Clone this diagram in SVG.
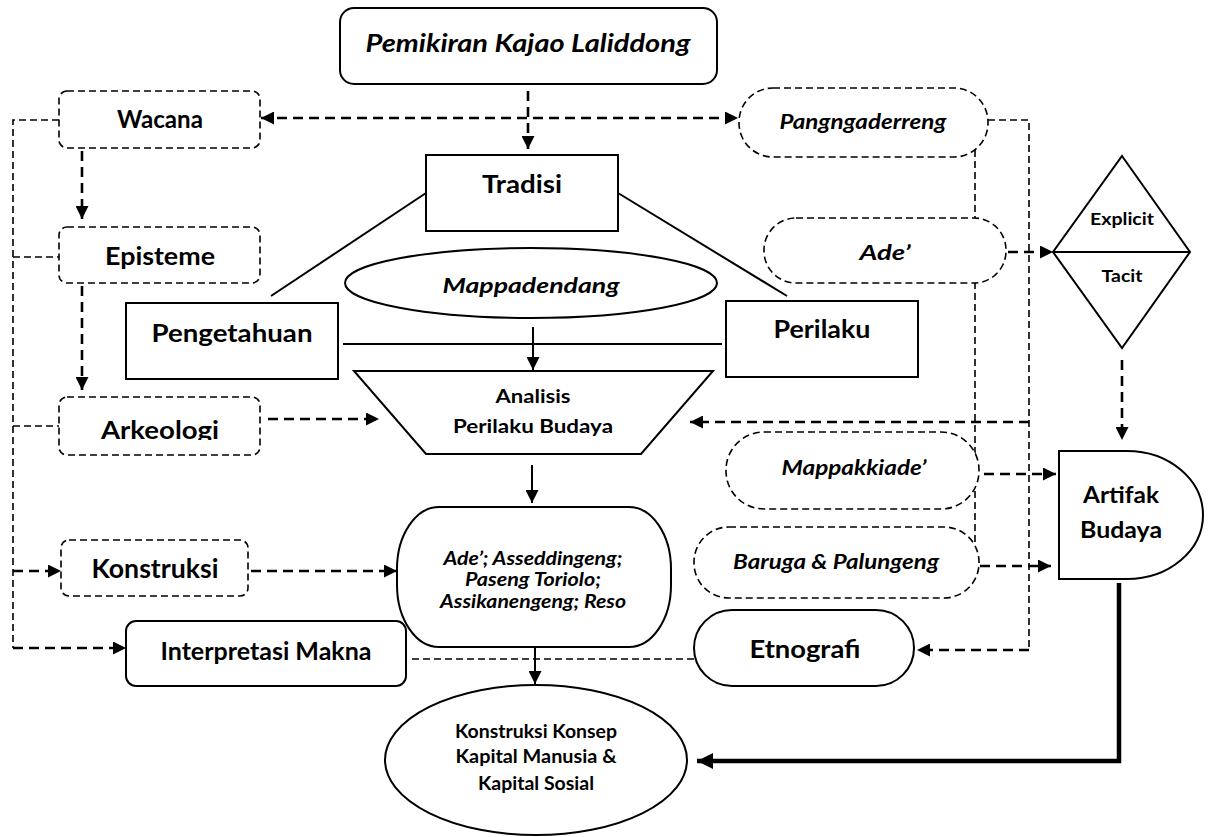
<svg xmlns="http://www.w3.org/2000/svg" width="1212" height="837" viewBox="0 0 1212 837">
<style>
.t{font-family:Lato,"Open Sans","Liberation Sans",sans-serif;font-weight:bold;fill:#000;text-anchor:middle}
.i{font-style:italic}
.box{fill:#fff;stroke:#000;stroke-width:2}
.dbox{fill:#fff;stroke:#000;stroke-width:1.6;stroke-dasharray:7 4}
.thin{fill:none;stroke:#000;stroke-width:1.6;stroke-dasharray:7 4}
.thick{fill:none;stroke:#000;stroke-width:2.6;stroke-dasharray:10 6}
.solid{fill:none;stroke:#000;stroke-width:2}
</style>
<defs>
<marker id="ah" viewBox="0 0 10 10" refX="10" refY="5" markerWidth="13" markerHeight="13" markerUnits="userSpaceOnUse" orient="auto-start-reverse"><path d="M0,0 L10,5 L0,10 z" fill="#000"/></marker>
<marker id="ahb" viewBox="0 0 10 10" refX="10" refY="5" markerWidth="16" markerHeight="16" markerUnits="userSpaceOnUse" orient="auto"><path d="M0,0 L10,5 L0,10 z" fill="#000"/></marker>
<clipPath id="arkclip"><rect x="59" y="397" width="201" height="43"/></clipPath>
</defs>
<rect width="1212" height="837" fill="#fff"/>
<g id="connectors">
<line class="thick" x1="528" y1="91" x2="528" y2="149" marker-end="url(#ah)"/>
<line class="thick" x1="261" y1="118" x2="738" y2="118" marker-start="url(#ah)" marker-end="url(#ah)"/>
<line class="thick" x1="82" y1="151" x2="82" y2="219" marker-end="url(#ah)"/>
<line class="thick" x1="82" y1="286" x2="82" y2="390" marker-end="url(#ah)"/>
<path class="thin" d="M59,120 H13 V648"/>
<line class="thin" x1="13" y1="257" x2="59" y2="257"/>
<line class="thin" x1="13" y1="426" x2="59" y2="426"/>
<line class="thick" x1="13" y1="571" x2="61" y2="571" marker-end="url(#ah)"/>
<line class="thick" x1="13" y1="648" x2="126" y2="648" marker-end="url(#ah)"/>
<line class="thick" x1="268" y1="419" x2="379" y2="419" marker-end="url(#ah)"/>
<line class="solid" x1="271" y1="296" x2="426" y2="193"/>
<line class="solid" x1="618" y1="193" x2="787" y2="296"/>
<line class="solid" x1="343" y1="344" x2="722" y2="344"/>
<line class="solid" x1="533" y1="327" x2="533" y2="370" marker-end="url(#ah)"/>
<line class="solid" x1="532" y1="465" x2="532" y2="503" marker-end="url(#ah)"/>
<line class="thick" x1="251" y1="571" x2="397" y2="571" marker-end="url(#ah)"/>
<line class="thin" x1="412" y1="659" x2="694" y2="659"/>
<line class="solid" x1="535" y1="647" x2="535" y2="684" marker-end="url(#ah)"/>
<path class="thin" d="M988,120 H1029 V650"/>
<line class="thick" x1="1029" y1="650" x2="917" y2="650" marker-end="url(#ah)"/>
<line class="thin" x1="975" y1="150" x2="975" y2="545"/>
<line class="thick" x1="1029" y1="422" x2="690" y2="422" marker-end="url(#ah)"/>
<line class="thick" x1="1008" y1="252" x2="1053" y2="252" marker-end="url(#ah)"/>
<line class="thick" x1="1122" y1="360" x2="1122" y2="440" marker-end="url(#ah)"/>
<line class="thick" x1="984" y1="474" x2="1056" y2="474" marker-end="url(#ah)"/>
<line class="thick" x1="980" y1="566" x2="1051" y2="566" marker-end="url(#ah)"/>
<path d="M1119,583 V761 H697" fill="none" stroke="#000" stroke-width="4.5" marker-end="url(#ahb)"/>
</g>
<g id="pemikiran"><rect class="box" x="340" y="8" width="377" height="76" rx="14"/><text class="t i" x="528" y="52" font-size="25" textLength="325" lengthAdjust="spacingAndGlyphs">Pemikiran Kajao Laliddong</text></g>
<g id="wacana"><rect class="dbox" x="59" y="91" width="201" height="57" rx="8"/><text class="t" x="160" y="128" font-size="24" textLength="86" lengthAdjust="spacingAndGlyphs">Wacana</text></g>
<g id="episteme"><rect class="dbox" x="59" y="227" width="201" height="56" rx="8"/><text class="t" x="160" y="265" font-size="25" textLength="110" lengthAdjust="spacingAndGlyphs">Episteme</text></g>
<g id="arkeologi"><rect class="dbox" x="59" y="397" width="201" height="58" rx="8"/><text class="t" x="160" y="439" font-size="25" textLength="118" lengthAdjust="spacingAndGlyphs" clip-path="url(#arkclip)">Arkeologi</text></g>
<g id="konstruksi"><rect class="dbox" x="61" y="540" width="187" height="56" rx="8"/><text class="t" x="155" y="578" font-size="26" textLength="127" lengthAdjust="spacingAndGlyphs">Konstruksi</text></g>
<g id="interpretasi"><rect class="box" x="126" y="621" width="280" height="65" rx="10"/><text class="t" x="266" y="660" font-size="24" textLength="211" lengthAdjust="spacingAndGlyphs">Interpretasi Makna</text></g>
<g id="tradisi"><rect class="box" x="426" y="155" width="192" height="76"/><text class="t" x="522" y="193" font-size="25" textLength="80" lengthAdjust="spacingAndGlyphs">Tradisi</text></g>
<g id="pengetahuan"><rect class="box" x="126" y="303" width="212" height="76"/><text class="t" x="232" y="342" font-size="25" textLength="161" lengthAdjust="spacingAndGlyphs">Pengetahuan</text></g>
<g id="perilaku"><rect class="box" x="726" y="301" width="192" height="76"/><text class="t" x="822" y="338" font-size="25" textLength="97" lengthAdjust="spacingAndGlyphs">Perilaku</text></g>
<g id="mappadendang"><ellipse class="box" cx="531" cy="283" rx="186" ry="35"/><text class="t i" x="531" y="293" font-size="21" textLength="177" lengthAdjust="spacingAndGlyphs">Mappadendang</text></g>
<g id="analisis"><polygon class="box" points="354,371 713,371 641,454 426,454"/><text class="t" x="533" y="403" font-size="19.5" textLength="75" lengthAdjust="spacingAndGlyphs">Analisis</text><text class="t" x="533" y="433" font-size="19.5" textLength="160" lengthAdjust="spacingAndGlyphs">Perilaku Budaya</text></g>
<g id="ade-list"><rect class="box" x="397" y="507" width="274" height="140" rx="42" ry="62"/><text class="t i" x="533" y="565" font-size="19" textLength="179" lengthAdjust="spacingAndGlyphs">Ade’; Asseddingeng;</text><text class="t i" x="533" y="586" font-size="19" textLength="136" lengthAdjust="spacingAndGlyphs">Paseng Toriolo;</text><text class="t i" x="533" y="608" font-size="19" textLength="186" lengthAdjust="spacingAndGlyphs">Assikanengeng; Reso</text></g>
<g id="konsep"><ellipse class="box" cx="536" cy="760" rx="151" ry="75"/><text class="t" x="536" y="738" font-size="18" textLength="162" lengthAdjust="spacingAndGlyphs">Konstruksi Konsep</text><text class="t" x="536" y="763" font-size="18" textLength="161" lengthAdjust="spacingAndGlyphs">Kapital Manusia &amp;</text><text class="t" x="536" y="790" font-size="18" textLength="116" lengthAdjust="spacingAndGlyphs">Kapital Sosial</text></g>
<g id="pangngaderreng"><rect class="dbox" x="739" y="88" width="249" height="69" rx="34"/><text class="t i" x="863" y="129" font-size="21" textLength="167" lengthAdjust="spacingAndGlyphs">Pangngaderreng</text></g>
<g id="ade"><rect class="dbox" x="764" y="218" width="242" height="65" rx="32"/><text class="t i" x="885" y="260" font-size="20" textLength="51" lengthAdjust="spacingAndGlyphs">Ade’</text></g>
<g id="knowledge"><polygon class="box" points="1122,156 1190,252 1122,348 1053,252"/><line class="solid" x1="1053" y1="252" x2="1190" y2="252"/><text class="t" x="1122" y="225" font-size="17" textLength="64" lengthAdjust="spacingAndGlyphs">Explicit</text><text class="t" x="1122" y="282" font-size="17" textLength="41" lengthAdjust="spacingAndGlyphs">Tacit</text></g>
<g id="artifak"><path class="box" d="M1059,451 H1127 A76,64 0 0 1 1127,579 H1059 Z"/><text class="t" x="1121" y="503" font-size="23" textLength="76" lengthAdjust="spacingAndGlyphs">Artifak</text><text class="t" x="1121" y="538" font-size="23" textLength="82" lengthAdjust="spacingAndGlyphs">Budaya</text></g>
<g id="mappakkiade"><rect class="dbox" x="726" y="432" width="253" height="77" rx="38"/><text class="t i" x="854" y="475" font-size="20" textLength="145" lengthAdjust="spacingAndGlyphs">Mappakkiade’</text></g>
<g id="baruga"><rect class="dbox" x="694" y="527" width="285" height="71" rx="35"/><text class="t i" x="836" y="569" font-size="20" textLength="206" lengthAdjust="spacingAndGlyphs">Baruga &amp; Palungeng</text></g>
<g id="etnografi"><rect class="box" x="694" y="610" width="220" height="76" rx="38"/><text class="t" x="805" y="658" font-size="25" textLength="111" lengthAdjust="spacingAndGlyphs">Etnografi</text></g>
</svg>
